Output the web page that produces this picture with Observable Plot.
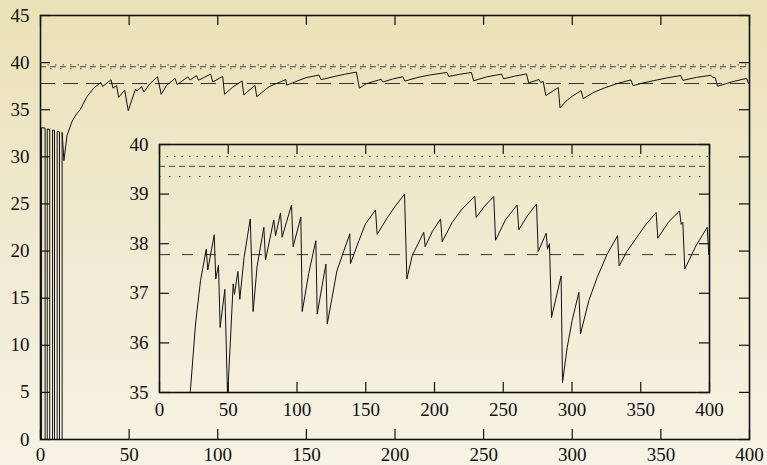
<!DOCTYPE html>
<html>
<head>
<meta charset="utf-8">
<script src="https://cdn.jsdelivr.net/npm/d3@7"></script>
<script src="https://cdn.jsdelivr.net/npm/@observablehq/plot@0.6"></script>
<style>
  html, body { margin: 0; padding: 0; width: 767px; height: 465px; overflow: hidden; }
  body { background: linear-gradient(to bottom, #eae1b6 0%, #f0ead0 50%, #f7f3e5 100%); position: relative; }
  #main { position: absolute; left: 0; top: 0; }
  #inset { position: absolute; left: 119px; top: 128px; }
  svg { overflow: visible; }
  svg text {
    font-family: "Liberation Serif", "Times New Roman", serif !important;
    font-size: 19px !important;
  }
</style>
</head>
<body>
<div id="main"></div>
<div id="inset"></div>
<script>
// Series (x, y)
const xs = [0.6,0.6,2.6,2.6,3.8,3.8,5.2,5.2,6.8,6.8,7.9,7.9,9.4,9.4,10.7,10.7,12.2,12.2,
  13.2,15,17.9,20.5,22.5,26.2,29.8,34.0,35.1,39.8,40.9,42.9,44.1,47.5,49.5,53.6,54.5,57,58.4,61.5,66,68.1,71,75.9,77.1,
  83.1,84.4,88,89.2,92.5,96,97.2,102.8,103.8,108.5,113.7,114.7,121,122,129,138.4,138.9,145,149.8,157.1,158.3,
  165.6,171.6,178.2,179.9,183.8,192.2,193.2,198.5,204.4,205.6,212.9,220.1,229.3,230.3,236.5,243.1,244.4,251.6,
  260.1,261.3,267.5,274.2,275.4,281.2,282.2,283.6,285.1,292.1,293.1,296.5,300.1,305,306.2,312.2,318.3,325.6,
  333.1,334.3,340,346.2,353.5,361.2,362.4,370,378.2,379.4,380.6,382,390,398.3,399.5];
const ys = [0,33.1,33.05,0,0,32.95,32.9,0,0,32.85,32.8,0,0,32.7,32.65,0,0,32.6,
  29.6,32.3,33.8,34.6,35.05,36.38,37.25,37.89,37.47,38.18,37.29,37.57,36.31,37.08,34.9,37.19,36.98,37.44,36.88,37.72,38.5,36.63,37.55,38.33,37.67,
  38.48,38.16,38.62,38.13,38.45,38.78,37.94,38.54,36.63,37.4,38.06,36.58,37.59,36.38,37.45,38.2,37.6,38.06,38.4,38.68,38.19,
  38.52,38.76,39.0,37.29,37.76,38.23,37.94,38.25,38.5,38.04,38.43,38.7,38.96,38.53,38.76,38.95,38.07,38.48,
  38.78,38.28,38.56,38.8,37.84,38.21,37.89,38.0,36.51,37.35,35.2,35.91,36.45,37.02,36.18,36.85,37.32,37.79,
  38.16,37.55,37.85,38.09,38.38,38.63,38.11,38.43,38.66,38.39,38.43,37.49,37.95,38.33,37.78];

// Horizontal reference levels
const refDotTop = [39.76];
const refDashMid = [39.56];
const refDotLow = [39.355];
const refDashLong = [37.78];

// Tick values
const mainXTicks = [0,50,100,150,200,250,300,350,400];
const mainYTicks = [0,5,10,15,20,25,30,35,40,45];
const insetXTicks = [0,50,100,150,200,250,300,350,400];
const insetYTicks = [35,36,37,38,39,40];

const series = xs.map((x, i) => ({x, y: ys[i]}));
const ink = "#111";
const refInk = "#444";
const fmt = d => String(d);
const serif = "'Liberation Serif', 'Times New Roman', serif";

function refMarks(longDash) {
  return [
    Plot.ruleY(refDotTop, {y: d => d, stroke: refInk, strokeWidth: 1, strokeDasharray: "1.5,6"}),
    Plot.ruleY(refDashMid, {y: d => d, stroke: refInk, strokeWidth: 1, strokeDasharray: "6,4"}),
    Plot.ruleY(refDotLow, {y: d => d, stroke: refInk, strokeWidth: 1, strokeDasharray: "1.5,8.5"}),
    Plot.ruleY(refDashLong, {y: d => d, stroke: "#333", strokeWidth: 1, strokeDasharray: longDash})
  ];
}

function tickMarks(xt, yt, xd, yd) {
  return [
    Plot.ruleX(xt, {x: d => d, y1: () => yd[0], y2: () => yd[0], insetTop: -10, stroke: ink, strokeWidth: 1.2}),
    Plot.ruleX(xt, {x: d => d, y1: () => yd[1], y2: () => yd[1], insetBottom: -10, stroke: ink, strokeWidth: 1.2}),
    Plot.ruleY(yt, {y: d => d, x1: () => xd[0], x2: () => xd[0], insetRight: -10, stroke: ink, strokeWidth: 1.2}),
    Plot.ruleY(yt, {y: d => d, x1: () => xd[1], x2: () => xd[1], insetLeft: -10, stroke: ink, strokeWidth: 1.2})
  ];
}

const main = Plot.plot({
  width: 767, height: 465,
  marginLeft: 40, marginRight: 18, marginTop: 15, marginBottom: 26,
  style: "background: transparent; overflow: visible; font-family: " + serif + "; font-size: 19px; color: #111;",
  x: {domain: [0, 400], ticks: mainXTicks, tickFormat: fmt, tickSize: 0, tickPadding: 8, label: null},
  y: {domain: [0, 45], ticks: mainYTicks, tickFormat: fmt, tickSize: 0, tickPadding: 11, label: null},
  marks: [
    ...refMarks("15,8"),
    Plot.line(series, {x: "x", y: "y", stroke: ink, strokeWidth: 1}),
    ...tickMarks(mainXTicks, mainYTicks, [0, 400], [0, 45]),
    Plot.frame({stroke: ink, strokeWidth: 1.6})
  ]
});
document.getElementById("main").appendChild(main);

const inset = Plot.plot({
  width: 630, height: 300,
  marginLeft: 40, marginRight: 40, marginTop: 16, marginBottom: 36,
  style: "background: transparent; overflow: visible; font-family: " + serif + "; font-size: 19px; color: #111;",
  x: {domain: [0, 400], ticks: insetXTicks, tickFormat: fmt, tickSize: 0, tickPadding: 10, label: null},
  y: {domain: [35, 40], ticks: insetYTicks, tickFormat: fmt, tickSize: 0, tickPadding: 11, label: null},
  marks: [
    ...refMarks("11,12"),
    Plot.line(series, {x: "x", y: "y", stroke: ink, strokeWidth: 1, clip: true}),
    ...tickMarks(insetXTicks, insetYTicks, [0, 400], [35, 40]),
    Plot.frame({stroke: ink, strokeWidth: 1.6})
  ]
});
document.getElementById("inset").appendChild(inset);
</script>
</body>
</html>
